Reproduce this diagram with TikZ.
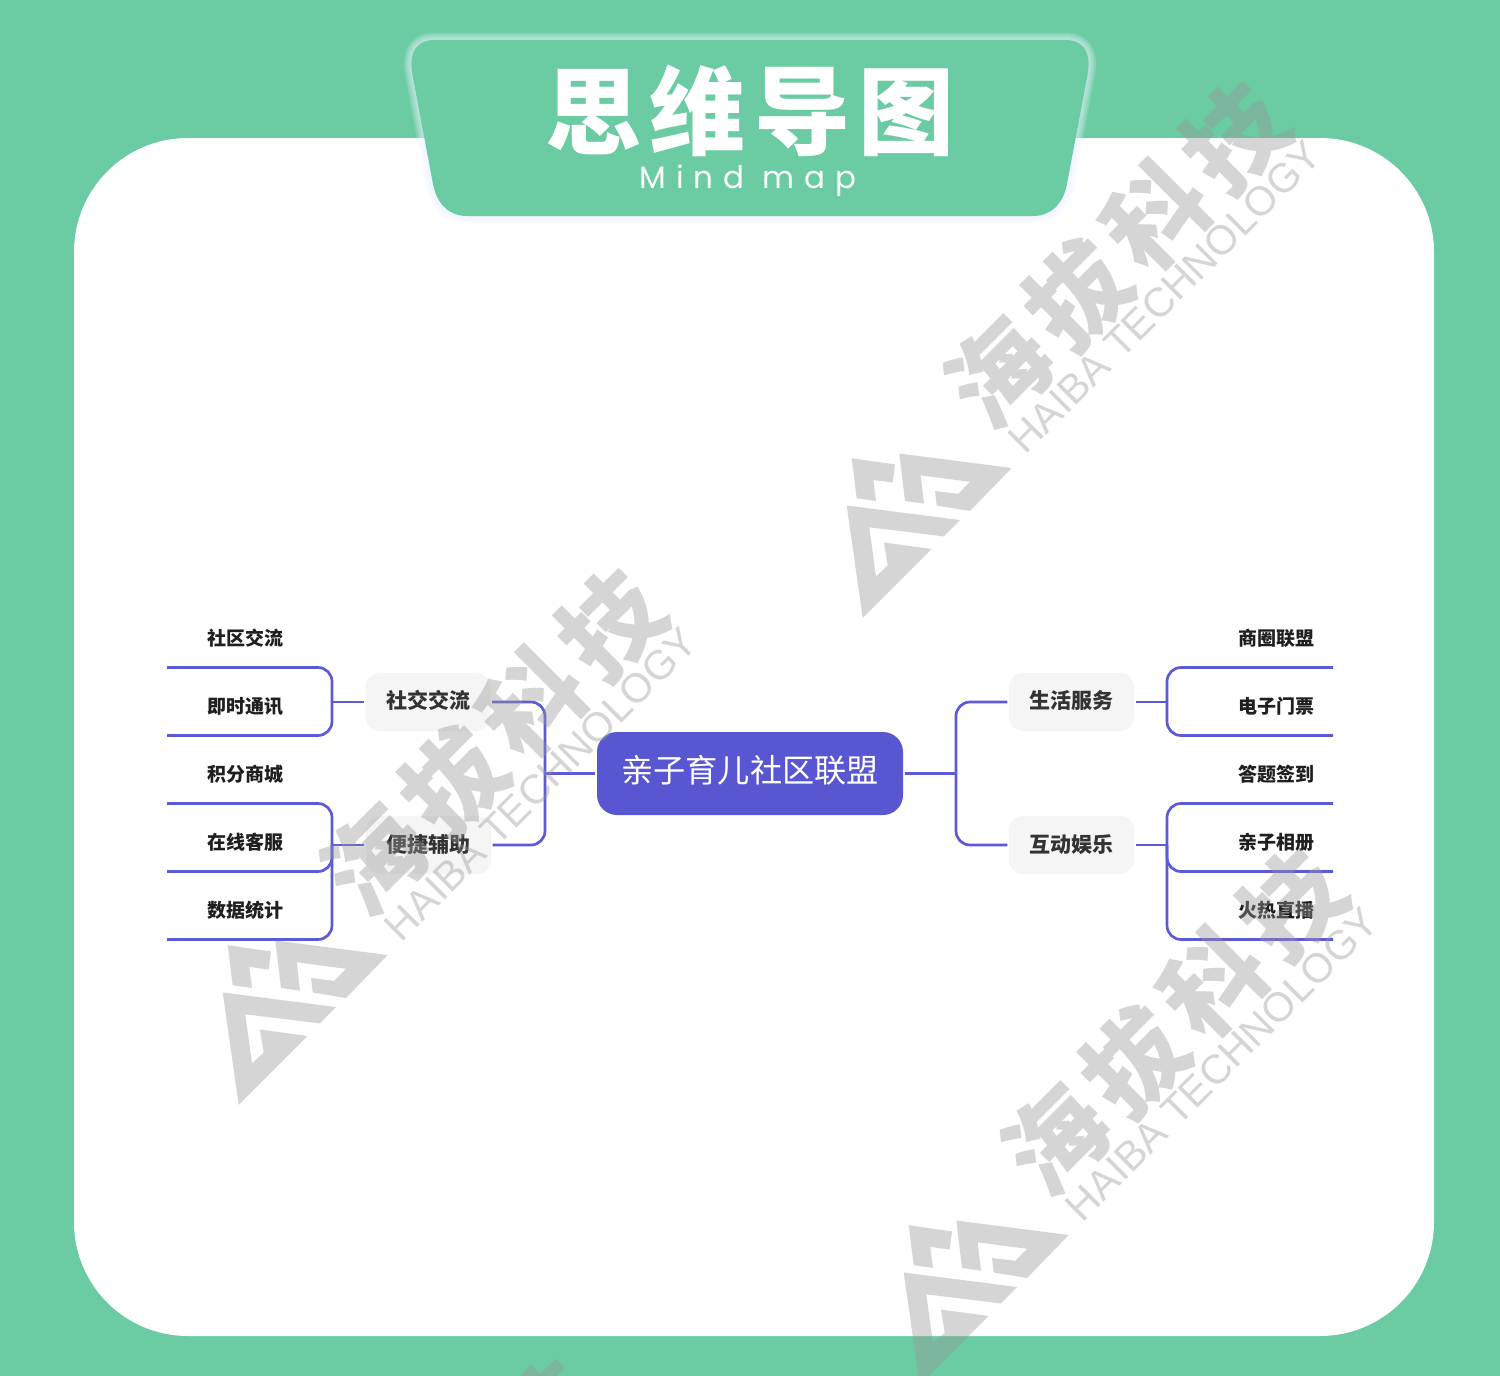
\documentclass[tikz,border=0pt]{standalone}
\usepackage{fontspec}
\setmainfont{Noto Sans CJK SC}
\newfontfamily\cjk{Noto Sans CJK SC}
\newfontfamily\cjktitle[LetterSpace=9]{Noto Sans CJK SC Black}
\newfontfamily\cjkwm[LetterSpace=11]{Noto Sans CJK SC Black}
\newfontfamily\mindfont[LetterSpace=32]{Poppins}
\newfontfamily\wmlatin{Liberation Sans}
\definecolor{mintbg}{HTML}{6BCCA3}
\definecolor{linkblue}{HTML}{5C5AD6}
\definecolor{corepurple}{HTML}{5856D0}
\definecolor{softgray}{HTML}{F5F5F5}
\definecolor{glowtint}{HTML}{EAF2FF}
\definecolor{wmgray}{HTML}{979797}
\newcommand{\nudge}[2]{\raisebox{#1}[0pt][0pt]{#2}}
\tikzset{
  x=.5pt,y=-.5pt,
  link/.style={draw=linkblue,line width=1.35pt,rounded corners=7pt},
  corelink/.style={draw=linkblue,line width=1.6pt},
  corebox/.style={fill=corepurple,rounded corners=10pt,minimum width=153pt,minimum height=41.5pt,inner sep=0pt,outer sep=.8pt,text=white,font=\cjk\fontsize{16.1}{16.1}\selectfont},
  midbox/.style={fill=softgray,rounded corners=7pt,minimum width=62.5pt,minimum height=29pt,inner sep=0pt,outer sep=.8pt,text=black!80,font=\cjk\bfseries\fontsize{10.5}{10.5}\selectfont},
  leafleft/.style={minimum width=78.5pt,minimum height=29pt,inner sep=0pt,outer sep=0pt,text=black!88,anchor=south west,font=\cjk\bfseries\fontsize{9.5}{9.5}\selectfont},
  leafright/.style={minimum width=57pt,minimum height=29pt,inner sep=0pt,outer sep=0pt,text=black!88,anchor=south east,font=\cjk\bfseries\fontsize{9.5}{9.5}\selectfont},
  wmshape/.style={fill=wmgray,fill opacity=.4,draw=none},
  wmtext/.style={text=wmgray,text opacity=.4,inner sep=0pt,rotate=45},
}
\newcommand{\watermark}[3]{%
  \begin{scope}[shift={(#1,#2)}]
    \fill[wmshape] (851.7,458.2)--(895,464.4)--(892.7,482.5)--(873.3,480)--(876,501)--(856.7,498.2)--cycle;
    \fill[wmshape] (899.3,453.5)--(1011.7,468)--(970,511)--(936.7,505.5)--(935,491)--(958.3,493.8)--(970,481.8)--(920.7,475.3)--(924,503.6)--(905,501)--cycle;
    \fill[wmshape] (846.7,505.5)--(960,520)--(944,536.4)--(869.3,527.3)--(876,576.4)--(887.7,565.5)--(884,542.5)--(931.7,549)--(862.7,618)--cycle;
    \node[wmtext,font=\cjkwm\fontsize{50}{50}\selectfont] (wmcn#3) at (1117,255) {海拔科技};
    \node[wmtext,font=\wmlatin\fontsize{20.5}{21}\selectfont] (wmen#3) at (1165,297) {HAIBA TECHNOLOGY};
  \end{scope}}
\begin{document}
\begin{tikzpicture}
\clip (0,0) rectangle (1500,1376);
\fill[mintbg] (0,0) rectangle (1500,1376);
\fill[white,rounded corners=57pt] (74,138) rectangle (1434,1336);
% banner
\def\bannerpath{(435,40) -- (1065,40) .. controls (1082,40) and (1091,50) .. (1088,72) -- (1067,184) .. controls (1063,205) and (1050,216) .. (1033,216) -- (467,216) .. controls (450,216) and (437,205) .. (433,184) -- (412,72) .. controls (409,50) and (418,40) .. (435,40) -- cycle}
\foreach \w in {1.5,3,4.5,6,7.5}
  \draw[glowtint,draw opacity=.17,line width=\w pt,line join=round] \bannerpath;
\fill[mintbg] \bannerpath;
\node[text=white,inner sep=0pt,font=\cjktitle\fontsize{48}{48}\selectfont] (title) at (750,111) {思维导图};
\node[text=white,inner sep=0pt,font=\mindfont\fontsize{15.5}{16}\selectfont] (subtitle) at (748,180.5) {Mind map};
% map
\node[corebox] (core) at (750,773.5) {\nudge{-4.25pt}{亲子育儿社区联盟}};
\node[midbox] (ml1) at (428,702) {\nudge{-3pt}{社交交流}};
\node[midbox] (ml2) at (428.5,845) {\nudge{-3.5pt}{便捷辅助}};
\node[midbox] (mr1) at (1071.5,702) {\nudge{-3pt}{生活服务}};
\node[midbox] (mr2) at (1071.5,845) {\nudge{-3.5pt}{互动娱乐}};
\node[leafleft] (l1) at (167,667.5) {社区交流};
\node[leafleft] (l2) at (167,735.5) {即时通讯};
\node[leafleft] (l3) at (167,803.5) {积分商城};
\node[leafleft] (l4) at (167,871.5) {在线客服};
\node[leafleft] (l5) at (167,939.5) {数据统计};
\node[leafright] (r1) at (1333,667.5) {商圈联盟};
\node[leafright] (r2) at (1333,735.5) {电子门票};
\node[leafright] (r3) at (1333,803.5) {答题签到};
\node[leafright] (r4) at (1333,871.5) {亲子相册};
\node[leafright] (r5) at (1333,939.5) {火热直播};
\coordinate (lbus) at (545,773.5);
\coordinate (rbus) at (956,773.5);
\coordinate (la1) at (332,667.5);
\coordinate (la2) at (332,735.5);
\coordinate (la3) at (332,803.5);
\coordinate (la4) at (332,871.5);
\coordinate (la5) at (332,939.5);
\coordinate (ra1) at (1167,667.5);
\coordinate (ra2) at (1167,735.5);
\coordinate (ra3) at (1167,803.5);
\coordinate (ra4) at (1167,871.5);
\coordinate (ra5) at (1167,939.5);
\draw[corelink] (core.west) -- (lbus);
\draw[corelink] (core.east) -- (rbus);
\draw[link] (ml1.east) -| (lbus) |- (ml2.east);
\draw[link] (mr1.west) -| (rbus) |- (mr2.west);
\draw[link] (l1.south west) -- (la1) -- (la2) -- (l2.south west);
\draw[link] (l3.south west) -- (la3) -- (la4) -- (l4.south west);
\draw[link] (ml2.west -| la3) -- (la5) -- (l5.south west);
\draw[link] (r1.south east) -- (ra1) -- (ra2) -- (r2.south east);
\draw[link] (r3.south east) -- (ra3) -- (ra4) -- (r4.south east);
\draw[link] (mr2.east -| ra3) -- (ra5) -- (r5.south east);
\draw[link] (ml1.west) -- (ml1.west -| la1);
\draw[link] (ml2.west) -- (ml2.west -| la3);
\draw[link] (mr1.east) -- (mr1.east -| ra1);
\draw[link] (mr2.east) -- (mr2.east -| ra3);
% watermarks
\watermark{0}{0}{a}
\watermark{-624}{487}{b}
\watermark{57}{767}{c}
\watermark{-687}{1278}{d}
\end{tikzpicture}
\end{document}
